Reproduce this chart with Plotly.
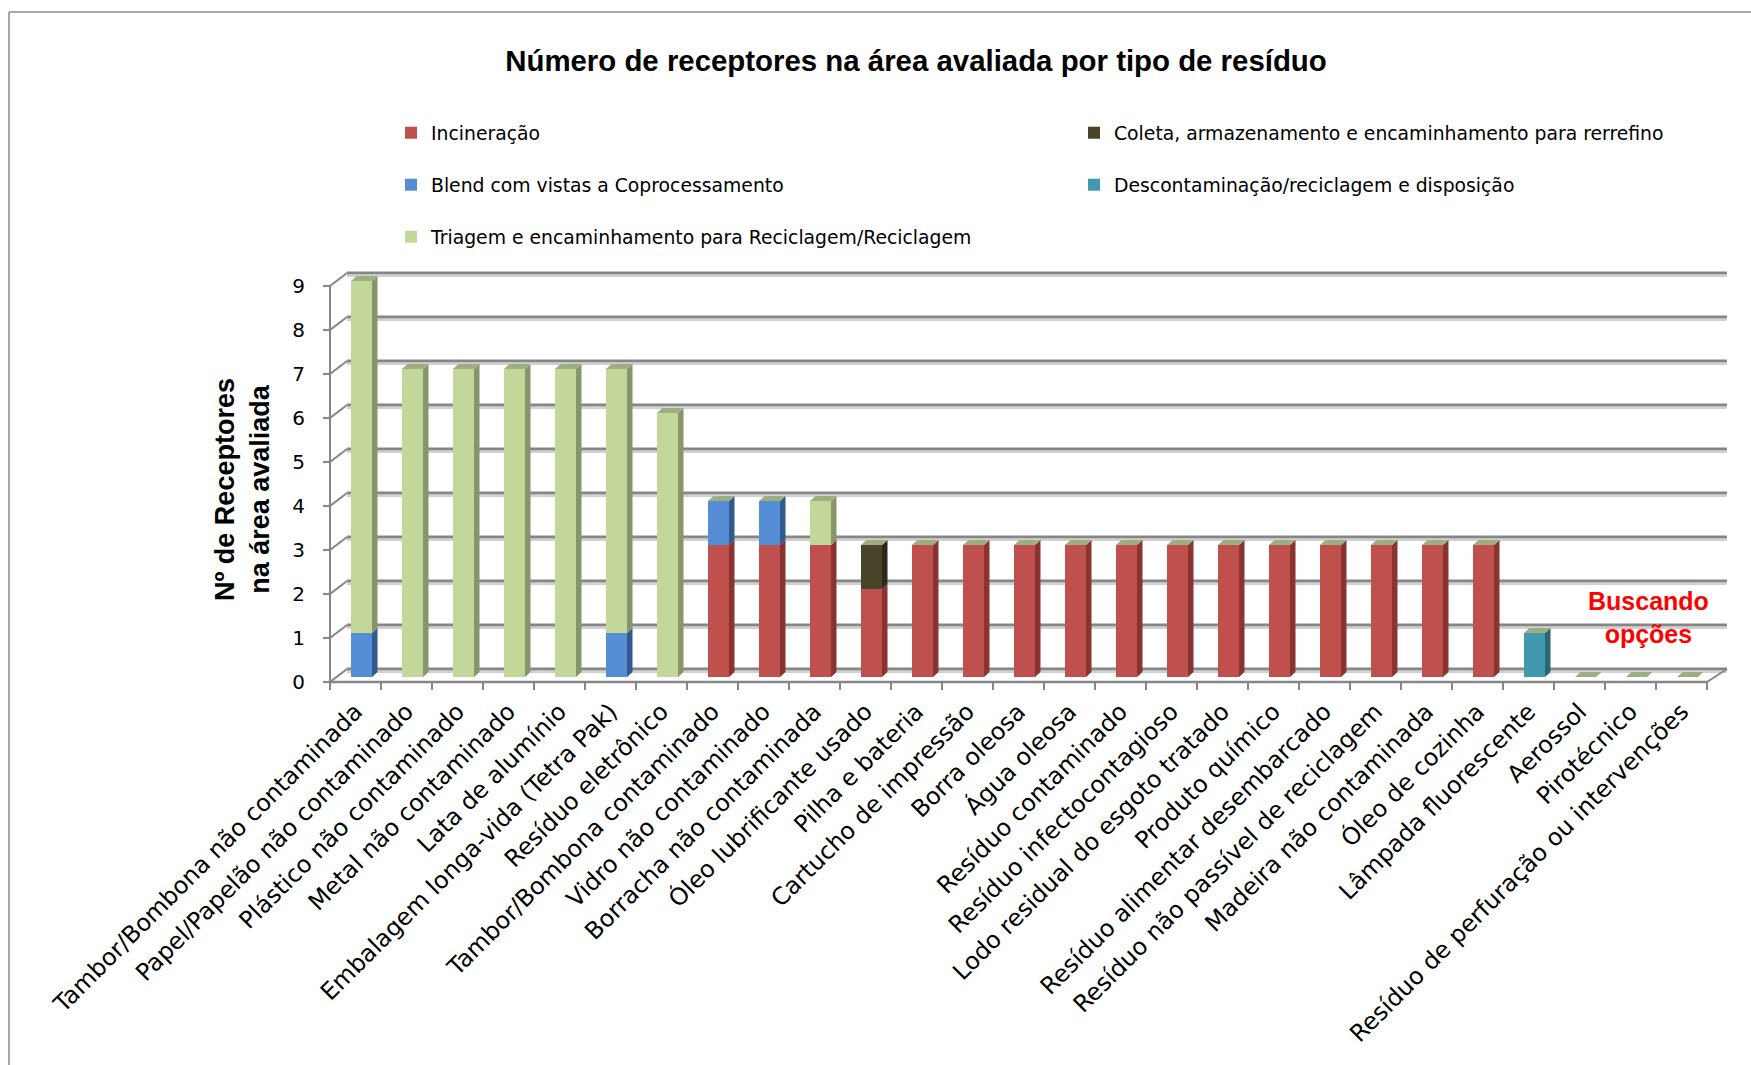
import numpy as np
import plotly.graph_objects as go

# ---------------- data ----------------
categories = [
    "Tambor/Bombona não contaminada",
    "Papel/Papelão não contaminado",
    "Plástico não contaminado",
    "Metal não contaminado",
    "Lata de alumínio",
    "Embalagem longa-vida (Tetra Pak)",
    "Resíduo eletrônico",
    "Tambor/Bombona contaminado",
    "Vidro não contaminado",
    "Borracha não contaminada",
    "Óleo lubrificante usado",
    "Pilha e bateria",
    "Cartucho de impressão",
    "Borra oleosa",
    "Água oleosa",
    "Resíduo contaminado",
    "Resíduo infectocontagioso",
    "Lodo residual do esgoto tratado",
    "Produto químico",
    "Resíduo alimentar desembarcado",
    "Resíduo não passível de reciclagem",
    "Madeira não contaminada",
    "Óleo de cozinha",
    "Lâmpada fluorescente",
    "Aerossol",
    "Pirotécnico",
    "Resíduo de perfuração ou intervenções",
]
incineracao = [0, 0, 0, 0, 0, 0, 0, 3, 3, 3, 2, 3, 3, 3, 3, 3, 3, 3, 3, 3, 3, 3, 3, 0, 0, 0, 0]
coleta = [0, 0, 0, 0, 0, 0, 0, 0, 0, 0, 1, 0, 0, 0, 0, 0, 0, 0, 0, 0, 0, 0, 0, 0, 0, 0, 0]
blend = [1, 0, 0, 0, 0, 1, 0, 1, 1, 0, 0, 0, 0, 0, 0, 0, 0, 0, 0, 0, 0, 0, 0, 0, 0, 0, 0]
descontaminacao = [0, 0, 0, 0, 0, 0, 0, 0, 0, 0, 0, 0, 0, 0, 0, 0, 0, 0, 0, 0, 0, 0, 0, 1, 0, 0, 0]
triagem = [8, 7, 7, 7, 7, 6, 6, 0, 0, 1, 0, 0, 0, 0, 0, 0, 0, 0, 0, 0, 0, 0, 0, 0, 0, 0, 0]
series_names = [
    "Incineração",
    "Coleta, armazenamento e encaminhamento para rerrefino",
    "Blend com vistas a Coprocessamento",
    "Descontaminação/reciclagem e disposição",
    "Triagem e encaminhamento para Reciclagem/Reciclagem",
]
y_ticks = [0, 1, 2, 3, 4, 5, 6, 7, 8, 9]
title_text = "Número de receptores na área avaliada por tipo de resíduo"
y_title = "Nº de Receptores<br>na área avaliada"
note_text = "Buscando<br>opções"

# ---------------- styling / geometry ----------------
face_colors = ["#C0504D", "#4A452A", "#558ED5", "#4198AF", "#C4D79B"]
side_colors = ["#8A3431", "#2C2919", "#30598C", "#2A6878", "#86966A"]
cap_color = "#9DAE80"
frame_col = "#868686"
shadow_col = "#D0D0D0"

W, H = 1751, 1065
L, R, T, B = 320, 1731, 262, 692
CAT_PX, UNIT_PX = 51.0, 44.0
X0_PX = 355.5            # centre of first category (front plane)
Y0_BAR, Y0_FRONT = 677, 682

def xv(px):
    return (px - X0_PX) / CAT_PX

x_range = [xv(L), xv(R)]
ybar_range = [(Y0_BAR - B) / UNIT_PX, (Y0_BAR - T) / UNIT_PX]
yfront_range = [(Y0_FRONT - B) / UNIT_PX, (Y0_FRONT - T) / UNIT_PX]

def xp(px):
    return (px - L) / (R - L)

def yp(py):
    return (B - py) / (B - T)

n = len(categories)
xs = np.arange(n)
BAR_W = 21 / CAT_PX
BAR_OFF = 6 / CAT_PX - BAR_W / 2
SIDE_DX = 5.5 / CAT_PX
SIDE_DY = 5 / UNIT_PX

values = [incineracao, coleta, blend, descontaminacao, triagem]
legend_ids = ["legend", "legend2", "legend3", "legend4", "legend5"]

fig = go.Figure()

cum = np.zeros(n)
side_traces = []
for k, (name, vals) in enumerate(zip(series_names, values)):
    v = np.array(vals, dtype=float)
    fig.add_trace(go.Bar(
        x=xs, y=v, name=name, width=BAR_W, offset=BAR_OFF,
        marker=dict(color=face_colors[k], line=dict(width=0)),
        legend=legend_ids[k], xaxis="x", yaxis="y",
    ))
    sx, sy = [], []
    for i in range(n):
        if v[i] > 0:
            y0, y1 = cum[i], cum[i] + v[i]
            xr = xs[i] + BAR_OFF + BAR_W
            sx += [xr, xr + SIDE_DX, xr + SIDE_DX, xr, xr, None]
            sy += [y0, y0 + SIDE_DY, y1 + SIDE_DY, y1, y0, None]
    side_traces.append(go.Scatter(
        x=sx, y=sy, mode="lines", fill="toself", fillcolor=side_colors[k],
        line=dict(width=0, color=side_colors[k]), hoverinfo="skip",
        showlegend=False, xaxis="x", yaxis="y",
    ))
    cum = cum + v

for tr in side_traces:
    fig.add_trace(tr)

# top caps
cx, cy = [], []
for i in range(n):
    t = cum[i]
    xl = xs[i] + BAR_OFF
    xr = xl + BAR_W
    cx += [xl, xl + SIDE_DX, xr + SIDE_DX, xr, xl, None]
    cy += [t, t + SIDE_DY, t + SIDE_DY, t, t, None]
fig.add_trace(go.Scatter(
    x=cx, y=cy, mode="lines", fill="toself", fillcolor=cap_color,
    line=dict(width=0, color=cap_color), hoverinfo="skip",
    showlegend=False, xaxis="x", yaxis="y",
))

# invisible trace to bind the front (label) axis
fig.add_trace(go.Scatter(x=[None], y=[None], mode="markers", showlegend=False,
                         hoverinfo="skip", xaxis="x", yaxis="y2"))

# ---------------- 3D-style frame (shapes, below traces) ----------------
shapes = []
back_dx = 17 / CAT_PX
back_dy = 13 / UNIT_PX
xb0 = -0.5 + back_dx
xb1 = (n - 0.5) + 20 / CAT_PX

def seg(x0, y0, x1, y1, color=frame_col, width=2):
    shapes.append(dict(type="line", xref="x", yref="y2", x0=x0, y0=y0, x1=x1, y1=y1,
                       line=dict(color=color, width=width), layer="below"))

for v in y_ticks:
    seg(xb0, v + back_dy - 3 / UNIT_PX, xb1, v + back_dy - 3 / UNIT_PX, shadow_col, 2)
for v in y_ticks:
    seg(xb0, v + back_dy, xb1, v + back_dy, frame_col, 3)
    seg(-0.5, v, xb0, v + back_dy, frame_col, 2)          # left wall diagonal
    seg(-0.5 - 7 / CAT_PX, v, -0.5, v, frame_col, 2)      # y tick
seg(-0.5, 0, -0.5, y_ticks[-1], frame_col, 2)              # front vertical edge
seg(-0.5, 0, n - 0.5, 0, frame_col, 2.5)                   # front floor line
seg(n - 0.5, 0, xb1, back_dy, frame_col, 2)                # right floor diagonal
for k in range(n + 1):
    seg(k - 0.5, 0, k - 0.5, -8 / UNIT_PX, frame_col, 2)    # category ticks

# outer chart border
for (x0, y0, x1, y1) in [(9, 12, 1751, 12), (9, 12, 9, 1065)]:
    shapes.append(dict(type="line", xref="paper", yref="paper",
                       x0=xp(x0), y0=yp(y0), x1=xp(x1), y1=yp(y1),
                       line=dict(color="#8C8C8C", width=1.5), layer="above"))

# ---------------- legends ----------------
leg_pos = [(433, 133), (1116, 133), (433, 185), (1116, 185), (433, 237)]
legends = {}
for lid, (tx, ty) in zip(legend_ids, leg_pos):
    legends[lid] = dict(
        x=(tx - 42) / W, y=1 - ty / H, xref="container", yref="container",
        xanchor="left", yanchor="middle", bgcolor="rgba(0,0,0,0)",
        font=dict(family="DejaVu Sans", size=18.8, color="#000000"),
        itemwidth=30,
    )

fig.update_layout(
    template="none",
    width=W, height=H,
    margin=dict(l=L, r=W - R, t=T, b=H - B, pad=0, autoexpand=False),
    paper_bgcolor="white", plot_bgcolor="rgba(0,0,0,0)",
    barmode="stack",
    font=dict(family="DejaVu Sans", color="#000000"),
    title=dict(text="<b>" + title_text + "</b>", x=916 / W, y=1 - 61 / H,
               xref="container", yref="container", xanchor="center", yanchor="middle",
               font=dict(family="Liberation Sans", size=29.4, color="#000000")),
    xaxis=dict(range=x_range, tickmode="array", tickvals=xs, ticktext=categories,
               tickangle=-45, ticks="", showgrid=False, zeroline=False, showline=False,
               tickfont=dict(family="DejaVu Sans", size=23.8, color="#000000"),
               automargin=False, fixedrange=True),
    yaxis=dict(range=ybar_range, showgrid=False, zeroline=False, showline=False,
               showticklabels=False, ticks="", automargin=False),
    yaxis2=dict(range=yfront_range, overlaying="y", side="left", anchor="x",
                tickmode="array", tickvals=y_ticks, showgrid=False, zeroline=False,
                showline=False, ticks="", ticklabelstandoff=14,
                tickfont=dict(family="DejaVu Sans", size=20, color="#000000"),
                automargin=False),
    shapes=shapes,
    annotations=[
        dict(text="<b>" + y_title + "</b>", xref="paper", yref="paper",
             x=xp(242), y=yp(490), textangle=-90, showarrow=False,
             xanchor="center", yanchor="middle",
             font=dict(family="Liberation Sans", size=27, color="#000000")),
        dict(text="<b>" + note_text + "</b>", xref="x", yref="y",
             x=xv(1648), y=(Y0_BAR - 617) / UNIT_PX, showarrow=False,
             xanchor="center", yanchor="middle",
             font=dict(family="Liberation Sans", size=25, color="#FF0000")),
    ],
    **legends,
)

fig.write_html("out.html")
